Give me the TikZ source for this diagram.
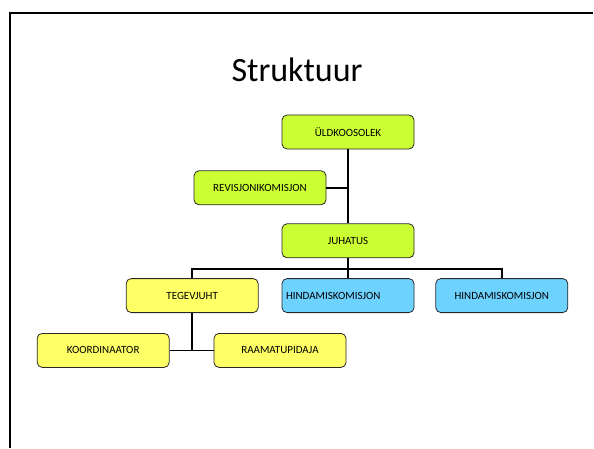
\documentclass[tikz,border=0pt]{standalone}
\usepackage{fontspec}
\setmainfont{Carlito}
\usetikzlibrary{positioning}
\definecolor{boardgreen}{RGB}{204, 255, 51}
\definecolor{staffyellow}{RGB}{255, 255, 102}
\definecolor{panelblue}{RGB}{110, 210, 255}
\definecolor{edgegray}{RGB}{40, 40, 40}

\begin{document}
\begin{tikzpicture}[
    x=1pt, y=1pt,
    orgbox/.style={draw=edgegray, thick, rounded corners=5pt, minimum width=132pt, minimum height=34pt, font=\fontsize{11}{12}\selectfont, align=center},
    link/.style={line width=1.5pt, black}
]
    \useasboundingbox (0,0) rectangle (594,448);
    % slide frame
    \draw[line width=2pt] (10,0) -- (10,435) -- (593,435);
    \node[font=\fontsize{34}{40}\selectfont] (title) at (297,378) {Struktuur};

    % Nodes - board
    \node[orgbox, fill=boardgreen] (uld) at (348,316) {ÜLDKOOSOLEK};
    \node[orgbox, fill=boardgreen, below=21pt of uld, xshift=-88pt] (revisjon) {REVISJONIKOMISJON};
    \node[orgbox, fill=boardgreen, below=74pt of uld] (juhatus) {JUHATUS};

    % Nodes - middle row
    \node[orgbox, fill=staffyellow, below left=20pt and 23pt of juhatus] (tegevjuht) {TEGEVJUHT};
    \node[orgbox, fill=panelblue, below=20pt of juhatus, text width=124pt, align=left] (hindamis1) {HINDAMISKOMISJON};
    \node[orgbox, fill=panelblue, right=21pt of hindamis1] (hindamis2) {HINDAMISKOMISJON};

    % Nodes - bottom row
    \node[orgbox, fill=staffyellow, below=20pt of tegevjuht, xshift=-89pt] (koordinaator) {KOORDINAATOR};
    \node[orgbox, fill=staffyellow, right=44pt of koordinaator] (raamatupidaja) {RAAMATUPIDAJA};

    % Connectors
    \coordinate[below=11pt of juhatus.south] (bus);
    \draw[link] (uld) -- (juhatus);
    \draw[link] (revisjon.east) -- (revisjon.east -| uld.south);
    \draw[link] (juhatus) -- (bus);
    \draw[link] (tegevjuht.north) |- (bus) -| (hindamis2.north);
    \draw[link] (bus) -- (hindamis1.north);
    \draw[link] (tegevjuht.south) -- (tegevjuht.south |- koordinaator.east);
    \draw[link] (koordinaator) -- (raamatupidaja);
\end{tikzpicture}
\end{document}
